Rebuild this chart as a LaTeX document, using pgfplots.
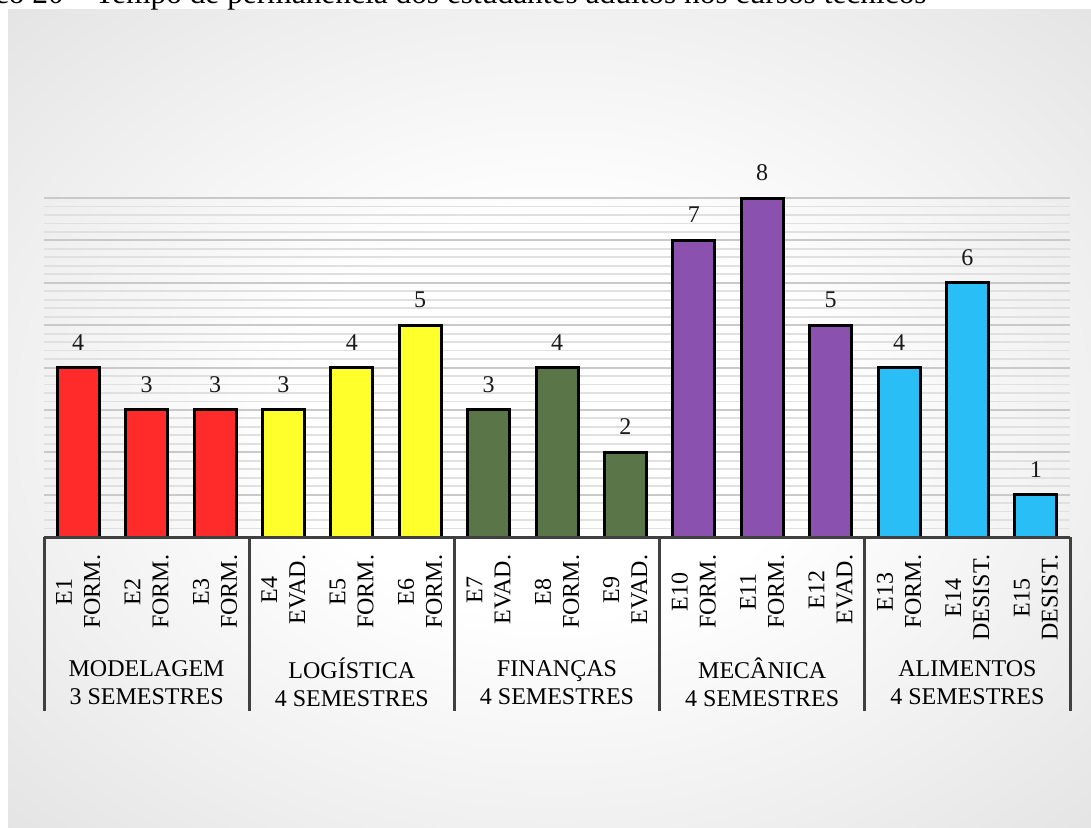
\documentclass[border=0pt]{standalone}
\usepackage{fontspec}
\setmainfont{Liberation Serif}
\usepackage{pgfplots}
\pgfplotsset{compat=1.18}
\definecolor{cred}{RGB}{255,43,43}
\definecolor{cyel}{RGB}{255,255,43}
\definecolor{cgrn}{RGB}{90,117,72}
\definecolor{cpur}{RGB}{138,82,174}
\definecolor{ccyn}{RGB}{41,190,245}
\definecolor{sepc}{RGB}{64,64,64}
\pgfdeclareradialshading{bgshade}{\pgfpoint{0bp}{0bp}}{color(0bp)=(white); color(12bp)=(white); color(50bp)=(black!17); color(72bp)=(black!25)}
\begin{document}
\begin{tikzpicture}
\clip (0,0) rectangle (545.5pt,413.5pt);
\shade[shading=bgshade] (4pt,0pt) rectangle (550pt,408.5pt);
\node[anchor=base east, inner sep=0pt, font=\fontsize{15.7}{19}\selectfont] at (463.5pt,411.5pt) {Gráfico 20 – Tempo de permanência dos estudantes adultos nos cursos técnicos};
\begin{axis}[
  at={(22pt,145pt)}, anchor=south west,
  scale only axis, width=513pt, height=169.5pt,
  xmin=0.5, xmax=15.5, ymin=0, ymax=8,
  ybar, bar width=21pt, /pgf/bar shift=0pt,
  axis line style={draw=none}, tick style={draw=none},
  ytick={0,1,2,3,4,5,6,7,8}, yticklabels={}, minor y tick num=4,
  ymajorgrids, yminorgrids,
  major grid style={draw=black!21, line width=1pt},
  minor grid style={draw=black!12, line width=0.9pt},
  xtick={1,2,3,4,5,6,7,8,9,10,11,12,13,14,15},
  xticklabels={{E1\\FORM.},{E2\\FORM.},{E3\\FORM.},{E4\\EVAD.},{E5\\FORM.},{E6\\FORM.},{E7\\EVAD.},{E8\\FORM.},{E9\\EVAD.},{E10\\FORM.},{E11\\FORM.},{E12\\EVAD.},{E13\\FORM.},{E14\\DESIST.},{E15\\DESIST.}},
  xticklabel style={yshift=-4.5pt, rotate=90, anchor=east, align=center, inner sep=0pt, text=black, font=\fontsize{12}{14}\selectfont},
  nodes near coords,
  nodes near coords style={font=\fontsize{12}{14}\selectfont, anchor=south, inner sep=0pt, yshift=8pt, text=black!90},
  /pgf/number format/assume math mode=true,
  clip=false,
  every axis plot/.append style={draw=black, line width=1.5pt},
]
\addplot[fill=cred] coordinates {(1,4) (2,3) (3,3)};
\addplot[fill=cyel] coordinates {(4,3) (5,4) (6,5)};
\addplot[fill=cgrn] coordinates {(7,3) (8,4) (9,2)};
\addplot[fill=cpur] coordinates {(10,7) (11,8) (12,5)};
\addplot[fill=ccyn] coordinates {(13,4) (14,6) (15,1)};
\draw[sepc, line width=1.5pt] (axis cs:0.5,0) -- (axis cs:15.5,0);
\draw[sepc, line width=1.5pt] (axis cs:0.5,0) -- (axis cs:0.5,-4.1);
\draw[sepc, line width=1.5pt] (axis cs:3.5,0) -- (axis cs:3.5,-4.1);
\draw[sepc, line width=1.5pt] (axis cs:6.5,0) -- (axis cs:6.5,-4.1);
\draw[sepc, line width=1.5pt] (axis cs:9.5,0) -- (axis cs:9.5,-4.1);
\draw[sepc, line width=1.5pt] (axis cs:12.5,0) -- (axis cs:12.5,-4.1);
\draw[sepc, line width=1.5pt] (axis cs:15.5,0) -- (axis cs:15.5,-4.1);
\node[align=center, text=black, font=\fontsize{12}{14}\selectfont] at (axis cs:2,-3.44) {MODELAGEM\\3 SEMESTRES};
\node[align=center, text=black, font=\fontsize{12}{14}\selectfont] at (axis cs:5,-3.44) {LOGÍSTICA\\4 SEMESTRES};
\node[align=center, text=black, font=\fontsize{12}{14}\selectfont] at (axis cs:8,-3.44) {FINANÇAS\\4 SEMESTRES};
\node[align=center, text=black, font=\fontsize{12}{14}\selectfont] at (axis cs:11,-3.44) {MECÂNICA\\4 SEMESTRES};
\node[align=center, text=black, font=\fontsize{12}{14}\selectfont] at (axis cs:14,-3.44) {ALIMENTOS\\4 SEMESTRES};
\end{axis}
\end{tikzpicture}
\end{document}
